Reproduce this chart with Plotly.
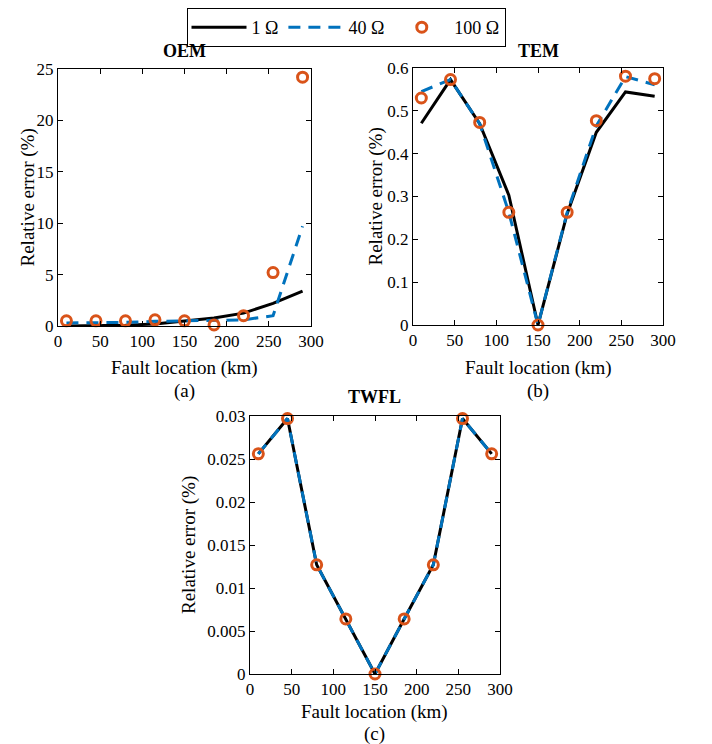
import plotly.graph_objects as go

# ---------------- data ----------------
fault_km = [10, 45, 80, 115, 150, 185, 220, 255, 290]

oem_1 = [0.0, 0.02, 0.08, 0.2, 0.45, 0.77, 1.25, 2.2, 3.4]
oem_40 = [0.3, 0.3, 0.35, 0.45, 0.5, 0.5, 0.6, 1.0, 9.7]
oem_100 = [0.5, 0.5, 0.5, 0.6, 0.5, 0.1, 1.0, 5.2, 24.2]

tem_1 = [0.471, 0.573, 0.470, 0.303, 0.0, 0.260, 0.450, 0.544, 0.534]
tem_40 = [0.545, 0.573, 0.470, 0.263, 0.0, 0.263, 0.465, 0.580, 0.561]
tem_100 = [0.530, 0.573, 0.473, 0.263, 0.0, 0.263, 0.477, 0.581, 0.575]

twfl_1 = [0.0256, 0.0297, 0.0127, 0.0064, 0.0, 0.0064, 0.0127, 0.0297, 0.0256]
twfl_40 = [0.0256, 0.0297, 0.0127, 0.0064, 0.0, 0.0064, 0.0127, 0.0297, 0.0256]
twfl_100 = [0.0256, 0.0297, 0.0127, 0.0064, 0.0, 0.0064, 0.0127, 0.0297, 0.0256]

series_names = ["1 Ω", "40 Ω", "100 Ω"]
panel_titles = ["OEM", "TEM", "TWFL"]
panel_labels = ["(a)", "(b)", "(c)"]

x_ticks = [0, 50, 100, 150, 200, 250, 300]
oem_yticks = [0, 5, 10, 15, 20, 25]
tem_yticks = [0, 0.1, 0.2, 0.3, 0.4, 0.5, 0.6]
tem_yticktext = ["0", "0.1", "0.2", "0.3", "0.4", "0.5", "0.6"]
twfl_yticks = [0, 0.005, 0.01, 0.015, 0.02, 0.025, 0.03]
twfl_yticktext = ["0", "0.005", "0.01", "0.015", "0.02", "0.025", "0.03"]

# ---------------- style ----------------
# the page body has an 8px margin, so the figure starts at (8, 8) of the window
OFF = 8
W, H = 712 - 2 * OFF, 744 - OFF
FONT = "Liberation Serif"
BLACK = "#000000"
BLUE = "#0072BD"
ORANGE = "#D95319"

def px_x(p):
    return (p - OFF) / W

def px_y(p):
    return 1 - (p - OFF) / H

# panel boxes in window pixels: (left, right, top, bottom)
boxes = [(58, 311, 69, 326), (413, 663, 68, 325), (250, 500, 416, 674)]

fig = go.Figure()

panels = [
    (oem_1, oem_40, oem_100, [0, 25], oem_yticks, [str(v) for v in oem_yticks]),
    (tem_1, tem_40, tem_100, [0, 0.6], tem_yticks, tem_yticktext),
    (twfl_1, twfl_40, twfl_100, [0, 0.03], twfl_yticks, twfl_yticktext),
]

for i, (s1, s40, s100, yr, yt, ytt) in enumerate(panels):
    n = "" if i == 0 else str(i + 1)
    xa = "x" + n
    ya = "y" + n
    show = i == 0
    fig.add_trace(go.Scatter(x=fault_km, y=s1, mode="lines", name=series_names[0],
                             line=dict(color=BLACK, width=3), xaxis=xa, yaxis=ya,
                             showlegend=show, legendgroup="a", cliponaxis=False))
    fig.add_trace(go.Scatter(x=fault_km, y=s40, mode="lines", name=series_names[1],
                             line=dict(color=BLUE, width=3, dash="12px,8px"), xaxis=xa, yaxis=ya,
                             showlegend=show, legendgroup="b", cliponaxis=False))
    fig.add_trace(go.Scatter(x=fault_km, y=s100, mode="markers", name=series_names[2],
                             marker=dict(symbol="circle-open", size=10, color=ORANGE,
                                         line=dict(width=3, color=ORANGE)),
                             xaxis=xa, yaxis=ya, showlegend=show, legendgroup="c",
                             cliponaxis=False))

    l, r, t, b = boxes[i]
    axis_common = dict(showline=True, linecolor=BLACK, linewidth=1, mirror="ticks",
                       ticks="inside", ticklen=5, tickcolor=BLACK, showgrid=False,
                       zeroline=False, automargin=False,
                       tickfont=dict(family=FONT, size=17, color=BLACK))
    fig.layout["xaxis" + n] = dict(domain=[px_x(l), px_x(r)], anchor=ya, range=[0, 300],
                                   tickvals=x_ticks, **axis_common)
    fig.layout["yaxis" + n] = dict(domain=[px_y(b), px_y(t)], anchor=xa, range=yr,
                                   tickvals=yt, ticktext=ytt, **axis_common)

# annotations for titles, axis titles, panel labels
ann = []
title_y = [51, 51, 397]
xt_y = [368, 368, 712]
lab_y = [391, 391, 734]
yt_x = [27, 375, 189]
for i, (l, r, t, b) in enumerate(boxes):
    cx = (l + r) / 2
    ann.append(dict(text="<b>" + panel_titles[i] + "</b>", x=px_x(cx), y=px_y(title_y[i]),
                    xref="paper", yref="paper", showarrow=False, xanchor="center",
                    yanchor="middle", font=dict(family=FONT, size=18, color=BLACK)))
    ann.append(dict(text="Fault location (km)", x=px_x(cx), y=px_y(xt_y[i]),
                    xref="paper", yref="paper", showarrow=False, xanchor="center",
                    yanchor="middle", font=dict(family=FONT, size=19, color=BLACK)))
    ann.append(dict(text=panel_labels[i], x=px_x(cx), y=px_y(lab_y[i]),
                    xref="paper", yref="paper", showarrow=False, xanchor="center",
                    yanchor="middle", font=dict(family=FONT, size=19, color=BLACK)))
    ann.append(dict(text="Relative error (%)", x=px_x(yt_x[i]), y=px_y((t + b) / 2),
                    xref="paper", yref="paper", showarrow=False, xanchor="center",
                    yanchor="middle", textangle=-90,
                    font=dict(family=FONT, size=19, color=BLACK)))

fig.update_layout(
    width=W, height=H,
    margin=dict(l=0, r=0, t=0, b=0, autoexpand=False),
    paper_bgcolor="white", plot_bgcolor="white",
    annotations=ann,
    showlegend=True,
    legend=dict(orientation="h", x=px_x(346), y=1, xanchor="center", yanchor="top",
                bordercolor=BLACK, borderwidth=1, bgcolor="rgba(255,255,255,0)",
                font=dict(family=FONT, size=18, color=BLACK),
                itemwidth=55, tracegroupgap=0),
)

fig.write_html("out.html")
